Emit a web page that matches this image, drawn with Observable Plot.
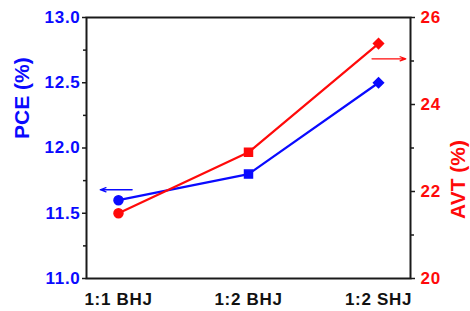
<!DOCTYPE html>
<html>
<head>
<meta charset="utf-8">
<script src="https://cdn.jsdelivr.net/npm/d3@7"></script>
<script src="https://cdn.jsdelivr.net/npm/@observablehq/plot@0.6"></script>
<style>
  html, body { margin: 0; padding: 0; background: #fff; }
  #chart svg g[aria-label$="tick label"] text { letter-spacing: 0.7px; }
</style>
</head>
<body>
<div id="chart"></div>
<script>
const categories = ["1:1 BHJ", "1:2 BHJ", "1:2 SHJ"];
const pceValues = [11.6, 11.8, 12.5];
const avtValues = [21.5, 22.9, 25.4];
const symbols = ["circle", "square", "diamond2"];
const pceTicks = [11.0, 11.5, 12.0, 12.5, 13.0];
const pceMinorTicks = [11.25, 11.75, 12.25, 12.75];
const avtTicks = [20, 22, 24, 26];
const avtMinorTicks = [21, 23, 25];
const pceArrowX = [-0.14, 0.105];
const pceArrowY = 11.68;
const avtArrowX = [1.95, 2.21];
const avtArrowY = 25.05;

const BLUE = "#0a0aff";
const RED = "#ff0a0a";
const AXIS = "#1a1a1a";

// map AVT (20..26) onto the PCE scale (11..13)
const toPce = v => 11 + (v - 20) * (2 / 6);
const toAvt = p => 20 + (p - 11) * 3;

const data = categories.map((c, i) => ({i, cat: c, pce: pceValues[i], avt: avtValues[i]}));

const chart = Plot.plot({
  width: 470,
  height: 311,
  marginLeft: 86,
  marginRight: 60,
  marginTop: 17,
  marginBottom: 33,
  style: {fontFamily: "'Liberation Sans', Arial, sans-serif", fontWeight: "bold", background: "#fff"},
  x: {domain: [-0.246, 2.246]},
  y: {domain: [11, 13]},
  symbol: {domain: categories, range: symbols},
  marks: [
    Plot.frame({stroke: AXIS, strokeWidth: 2}),
    // left axis
    Plot.axisY({ticks: pceTicks, tickSize: 4, tickFormat: () => "", stroke: AXIS, strokeWidth: 1.5, label: null}),
    Plot.axisY({ticks: pceMinorTicks, tickSize: 3, tickFormat: () => "", stroke: AXIS, strokeWidth: 1.5, label: null}),
    Plot.axisY({ticks: pceTicks, tickSize: 0, tickPadding: 6, tickFormat: d => d.toFixed(1), fill: BLUE, fontSize: 17, label: null}),
    // right axis
    Plot.axisY({anchor: "right", ticks: avtTicks.map(toPce), tickSize: 4, tickFormat: () => "", stroke: AXIS, strokeWidth: 1.5, label: null}),
    Plot.axisY({anchor: "right", ticks: avtMinorTicks.map(toPce), tickSize: 3, tickFormat: () => "", stroke: AXIS, strokeWidth: 1.5, label: null}),
    Plot.axisY({anchor: "right", ticks: avtTicks.map(toPce), tickSize: 0, tickPadding: 10, tickFormat: d => String(Math.round(toAvt(d))), fill: RED, fontSize: 17, label: null}),
    // x axis
    Plot.axisX({ticks: [0, 1, 2], tickSize: 0, tickPadding: 14, tickFormat: i => categories[i], fill: "#111", fontSize: 17, label: null}),
    // axis titles
    Plot.text(["PCE (%)"], {frameAnchor: "left", dx: -64, dy: -9, rotate: -90, fill: BLUE, fontSize: 21, fontWeight: "bold"}),
    Plot.text(["AVT (%)"], {frameAnchor: "right", dx: 48, dy: -8, rotate: -90, fill: RED, fontSize: 21, fontWeight: "bold"}),
    // series
    Plot.line(data, {x: "i", y: "pce", stroke: BLUE, strokeWidth: 2.2}),
    Plot.line(data, {x: "i", y: d => toPce(d.avt), stroke: RED, strokeWidth: 2.2}),
    Plot.dot(data, {x: "i", y: "pce", symbol: "cat", fill: BLUE, stroke: BLUE, r: 4.5}),
    Plot.dot(data, {x: "i", y: d => toPce(d.avt), symbol: "cat", fill: RED, stroke: RED, r: 4.5}),
    // arrows
    Plot.arrow([0], {x1: pceArrowX[1], x2: pceArrowX[0], y1: pceArrowY, y2: pceArrowY, stroke: BLUE, strokeWidth: 1.3, headLength: 7, headAngle: 40}),
    Plot.arrow([0], {x1: avtArrowX[0], x2: avtArrowX[1], y1: toPce(avtArrowY), y2: toPce(avtArrowY), stroke: RED, strokeWidth: 1.3, headLength: 7, headAngle: 40})
  ]
});
document.getElementById("chart").appendChild(chart);
</script>
</body>
</html>
